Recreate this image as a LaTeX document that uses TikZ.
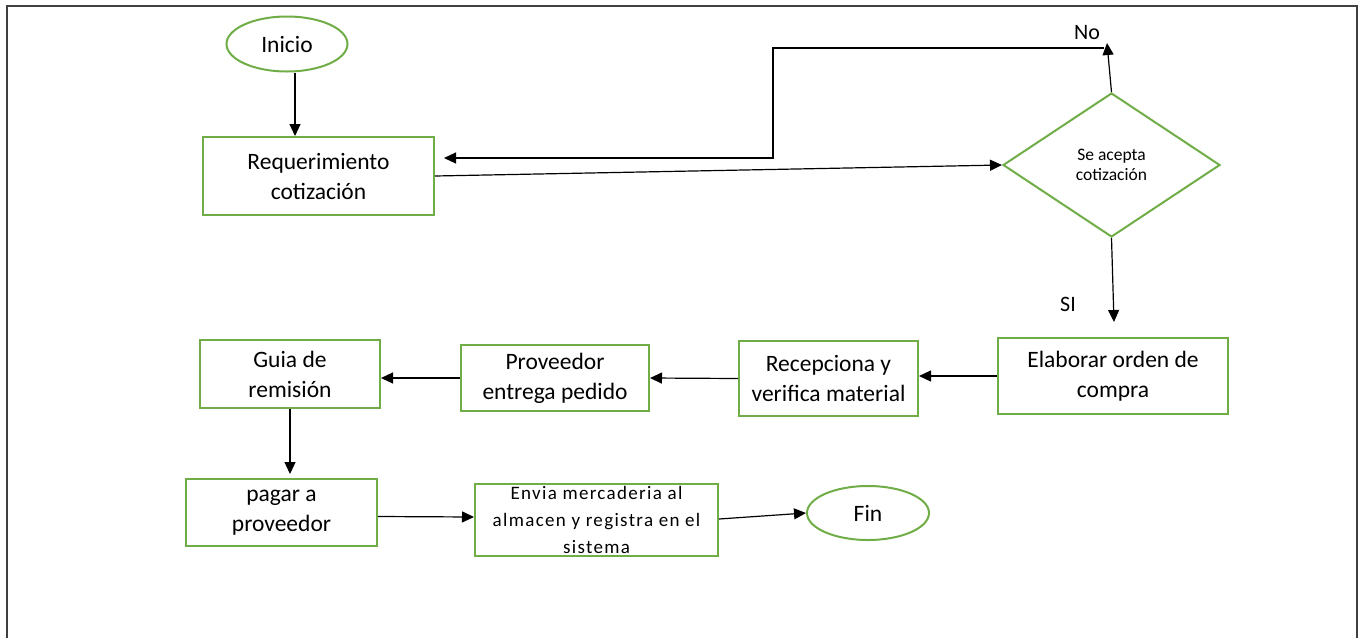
\documentclass[tikz,border=0pt]{standalone}
\usepackage{fontspec}
\setmainfont{Carlito}
\usetikzlibrary{shapes.geometric,arrows.meta}
\definecolor{boxgreen}{RGB}{112,173,71}
\definecolor{framegray}{RGB}{64,64,64}
\begin{document}
\begin{tikzpicture}[x=1pt,y=-1pt,
  box/.style={draw=boxgreen,line width=2pt,rectangle,inner sep=0pt,align=center,
    font=\fontsize{23.5}{30}\selectfont},
  term/.style={draw=boxgreen,line width=2pt,ellipse,inner sep=0pt,
    font=\fontsize{23.5}{28}\selectfont},
  arr/.style={draw=black,line width=1.2pt,-{Triangle[length=12pt,width=11pt]}},
  lbl/.style={font=\fontsize{22}{26}\selectfont,inner sep=0pt}]
\useasboundingbox (0,0) rectangle (1366,638);

% page frame (open at the bottom)
\draw[framegray,line width=1.5pt] (7,638) -- (7,6) -- (1357,6) -- (1357,638);

% process steps
\node[term,minimum width=121pt,minimum height=55pt] (ini) at (287,44) {Inicio};
\node[box,minimum width=231pt,minimum height=78pt] (req) at (318.5,176) {Requerimiento\\cotización};
\node[diamond,draw=boxgreen,line width=2pt,minimum width=217pt,minimum height=144pt,
  inner sep=0pt,align=center,font=\fontsize{17.5}{20}\selectfont] (dia) at (1111.5,165) {Se acepta\\cotización};
\node[box,minimum width=230pt,minimum height=76pt] (elab) at (1113,376) {Elaborar orden de\\compra};
\node[box,minimum width=179pt,minimum height=75pt] (recep) at (828.5,378.5) {Recepciona y\\verifica material};
\node[box,minimum width=188pt,minimum height=66pt] (prov) at (555,378) {Proveedor\\entrega pedido};
\node[box,minimum width=180pt,minimum height=68pt] (guia) at (290,374) {Guia de\\remisión};
\node[box,minimum width=191pt,minimum height=67pt] (pagar) at (281.5,512.5) {pagar a\\proveedor};
\node[box,minimum width=243pt,minimum height=72pt,font=\fontsize{19}{27}\selectfont\addfontfeatures{LetterSpace=7}]
  (envia) at (596.5,520) {Envia mercaderia al\\almacen y registra en el\\sistema};
\node[term,minimum width=122pt,minimum height=54pt] (fin) at (868,513) {Fin};

% decision labels
\node[lbl] (no) at (1087,33) {No};
\node[lbl] (si) at (1068,304) {SI};

% helper points
\coordinate (c295) at (295,0);
\coordinate (notip) at (1107,43);
\coordinate (fb1) at (1104,48);
\coordinate (fb2) at (773,48);
\coordinate (fb3) at (773,158);
\coordinate (fb4) at (444,158);
\coordinate (sitip) at (1114,322);

% connectors
\draw[arr] (ini.south -| c295) -- (req.north -| c295);
\draw[arr] (req.east) -- (dia.west);
\draw[arr] (dia.north) -- (notip);
\draw[arr] (fb1) -- (fb2) -- (fb3) -- (fb4);
\draw[arr] (dia.south) -- (sitip);
\draw[arr] (elab.west) -- (elab.west -| recep.east);
\draw[arr] (recep.west) -- (prov.east);
\draw[arr] (prov.west) -- (prov.west -| guia.east);
\draw[arr,shorten >=4pt] (guia.south) -- (guia.south |- pagar.north);
\draw[arr] ([yshift=-4pt]pagar.east) -- ([yshift=3pt]envia.west);
\draw[arr] ([yshift=1pt]envia.east) -- (fin.west);
\end{tikzpicture}
\end{document}
